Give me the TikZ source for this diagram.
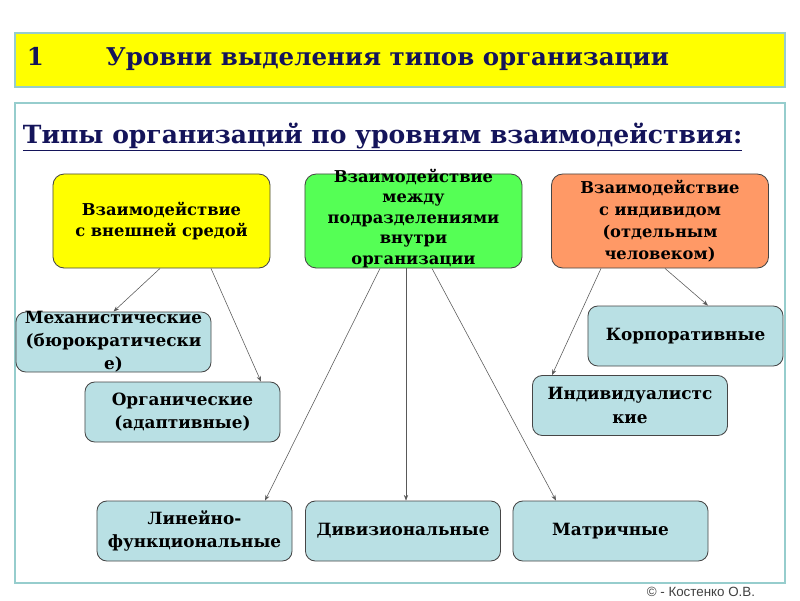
\documentclass[tikz,border=0pt]{standalone}
\usepackage{fontspec}
\setmainfont{DejaVu Serif}
\newfontfamily\footfont{Liberation Sans}
\usepackage{tikz}
\usetikzlibrary{arrows.meta,calc}
\definecolor{orgnavy}{RGB}{20,20,90}
\definecolor{orgyellow}{RGB}{255,255,0}
\definecolor{orggreen}{RGB}{85,255,85}
\definecolor{orgorange}{RGB}{255,153,102}
\definecolor{orgblue}{RGB}{185,224,228}
\definecolor{orgteal}{RGB}{150,205,205}
\definecolor{orgdark}{RGB}{70,70,70}

\begin{document}
\begin{tikzpicture}[x=0.025cm, y=-0.025cm,
  topbox/.style={draw=orgdark, line width=0.6pt, rounded corners=8pt, minimum width=5.425cm, minimum height=2.35cm, align=center, inner sep=2pt, font=\bfseries\fontsize{11.6}{15.5}\selectfont},
  subbox/.style={draw=orgdark, line width=0.6pt, fill=orgblue, rounded corners=7pt, minimum width=4.875cm, minimum height=1.5cm, align=center, inner sep=2pt, font=\bfseries\fontsize{12}{16.5}\selectfont},
  headtext/.style={anchor=base west, text=orgnavy, font=\bfseries\fontsize{17.4}{21}\selectfont},
  link/.style={draw=black!65, line width=0.4pt, -{Stealth[length=4pt,width=3pt]}}]
\useasboundingbox (0,0) rectangle (800,600);

% title bar and panel
\draw[orgteal, line width=1pt, fill=orgyellow] (15,33) rectangle (785,87);
\draw[orgteal, line width=1pt, fill=white] (15,103) rectangle (785,583);
\node[headtext] (num) at (22,65) {1};
\node[headtext] (title) at (101,65) {Уровни выделения типов организации};
\node[headtext, font=\bfseries\fontsize{17.8}{21}\selectfont] (head) at (18,143) {\underline{Типы организаций по уровням взаимодействия:}};

% levels
\node[topbox, fill=orgyellow] (ext) at (161.5,221) {Взаимодействие\\с внешней средой};
\node[topbox, fill=orggreen] (inn) at (413.5,221) {\fontsize{11.6}{14.6}\selectfont\raisebox{-3.5pt}{\smash{\begin{tabular}{@{}c@{}}Взаимодействие\\между\\подразделениями\\внутри\\организации\end{tabular}}}};
\node[topbox, fill=orgorange] (ind) at (660,221) {Взаимодействие\\с индивидом\\(отдельным\\человеком)};

% types
\node[subbox] (mech) at (113.5,342) {\raisebox{-5.5pt}{\smash{\begin{tabular}{@{}c@{}}Механистические\\(бюрократически\\е)\end{tabular}}}};
\node[subbox] (orgn) at (182.5,412) {Органические\\(адаптивные)};
\node[subbox] (korp) at (685.5,336) {Корпоративные};
\node[subbox] (indv) at (630,405.5) {Индивидуалистс\\кие};
\node[subbox] (lin) at (194.5,531) {Линейно-\\функциональные};
\node[subbox] (div) at (403,531) {Дивизиональные};
\node[subbox] (matr) at (610.5,531) {Матричные};

% connectors
\draw[link] ($(ext.south)+(-1.5,0)$) -- (mech.north);
\draw[link] ($(ext.south)+(49.5,0)$) -- ($(orgn.north)+(78.5,0)$);
\draw[link] ($(inn.south)+(-33.5,0)$) -- ($(lin.north)+(70.5,0)$);
\draw[link] ($(inn.south)+(-7.5,0)$) -- ($(div.north)+(3,0)$);
\draw[link] ($(inn.south)+(18.5,0)$) -- ($(matr.north)+(-54.5,0)$);
\draw[link] ($(ind.south)+(-59,0)$) -- ($(indv.north)+(-78,0)$);
\draw[link] ($(ind.south)+(5,0)$) -- ($(korp.north)+(22.5,0)$);

\node[anchor=east, text=black!75, font=\footfont\fontsize{9.5}{11}\selectfont] (copy) at (760,592) {© - Костенко О.В.};
\end{tikzpicture}
\end{document}
